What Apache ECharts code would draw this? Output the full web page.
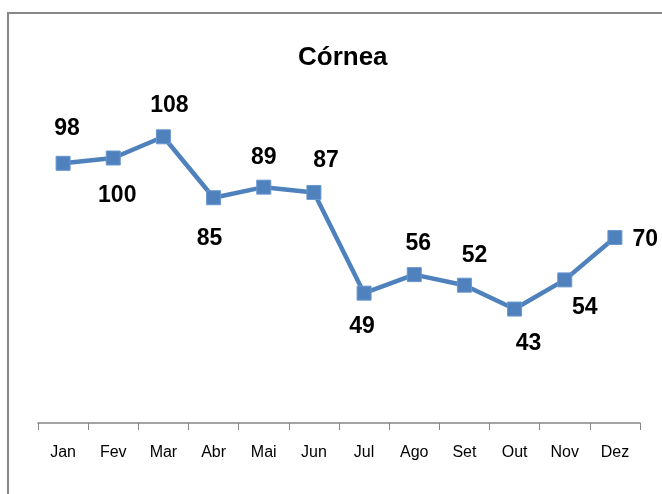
<!DOCTYPE html>
<html>
<head>
<meta charset="utf-8">
<script src="https://cdn.jsdelivr.net/npm/echarts@6/dist/echarts.min.js"></script>
<style>
  html, body { margin: 0; padding: 0; background: #fff; }
  #main { width: 662px; height: 494px; }
</style>
</head>
<body>
<div id="main"></div>
<script>
// chart data
let months = ["Jan", "Fev", "Mar", "Abr", "Mai", "Jun", "Jul", "Ago", "Set", "Out", "Nov", "Dez"]
let cornea = [98, 100, 108, 85, 89, 87, 49, 56, 52, 43, 54, 70]

// where each value label sits (style only)
let labelPlace = ["top", "bottom", "top", "bottom", "top", "top", "bottom", "top", "top", "bottom", "bottom", "right"]
let labelShift = [[4, -2], [4, 5], [6, 2], [-4, 8], [0, 4], [12, 1], [-2, 1], [4, 2], [10, 3], [14, 2], [20, -5], [-4, 2]]

var myChart = echarts.init(document.getElementById('main'))

let font = "'Liberation Sans', sans-serif"

let points = cornea.map((v, i) => ({
    value: v,
    label: {
        position: labelPlace[i],
        offset: labelShift[i],
        distance: 14
    }
}))

var option = {
    animation: false,
    backgroundColor: '#fff',
    title: {
        text: 'Córnea',
        left: 293,
        top: 40,
        textStyle: { fontFamily: font, fontSize: 26, fontWeight: 'bold', color: '#000' }
    },
    graphic: [{
        type: 'rect',
        shape: { x: 8, y: 13, width: 680, height: 500 },
        style: { fill: 'none', stroke: '#878787', lineWidth: 2 },
        silent: true
    }],
    grid: { left: 38, right: 22, top: 105, bottom: 71 },
    xAxis: {
        type: 'category',
        data: months,
        boundaryGap: true,
        axisLine: { lineStyle: { color: '#878787', width: 1.5 } },
        axisTick: { show: true, interval: 0, alignWithLabel: false, length: 7, lineStyle: { color: '#878787' } },
        axisLabel: { fontFamily: font, fontSize: 16, color: '#000', margin: 22 }
    },
    yAxis: {
        type: 'value',
        min: 0,
        max: 120,
        show: false,
        splitLine: { show: false }
    },
    series: [{
        type: 'line',
        data: points,
        symbol: 'rect',
        symbolSize: 14,
        lineStyle: { color: '#4F81BD', width: 4.5 },
        itemStyle: { color: '#4F81BD', borderColor: '#6A97D0', borderWidth: 1 },
        label: {
            show: true,
            fontFamily: font,
            fontSize: 23,
            fontWeight: 'bold',
            color: '#000'
        }
    }]
}

myChart.setOption(option)
</script>
</body>
</html>
